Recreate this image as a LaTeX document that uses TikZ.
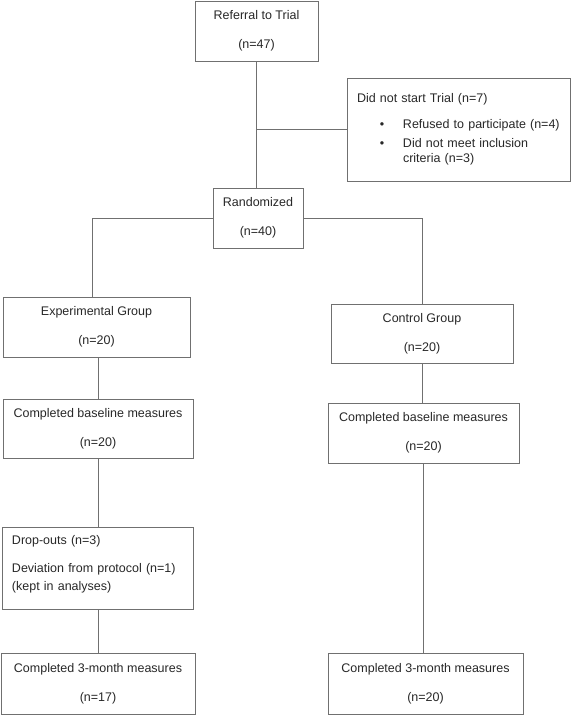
\documentclass[tikz,border=0pt]{standalone}
\usepackage{fontspec}
\setmainfont{Liberation Sans}
\usetikzlibrary{calc}
\definecolor{linecol}{RGB}{112,112,112}
\definecolor{textcol}{RGB}{40,40,40}
\begin{document}
\begin{tikzpicture}[x=1pt,y=-1pt,
  box/.style={draw=linecol,line width=1pt,rectangle,inner sep=0pt,text=textcol,
    font=\fontsize{12.5}{15}\selectfont,align=center},
  conn/.style={draw=linecol,line width=1pt}]
\useasboundingbox (0,0) rectangle (571,716);
\fill[white] (0,0) rectangle (571,716);
\newcommand{\twoline}[2]{#1\\[14pt]#2}
% nodes
\node[box,minimum width=123pt,minimum height=60pt] (ref) at (256.5,31) {\twoline{Referral to Trial}{(n=47)}};
\node[box,minimum width=223pt,minimum height=103pt,text width=203pt,align=left,inner xsep=10pt] (side) at (458.5,129.5)
 {\fontsize{12.5}{18.5}\selectfont Did not start Trial (n=7)\\[7.5pt]
  \hspace*{25pt}\makebox[0pt]{\textbullet}\hspace*{21pt}Refused to participate (n=4)\\
  \hspace*{25pt}\makebox[0pt]{\textbullet}\hspace*{21pt}Did not meet inclusion\\
  \hspace*{46pt}criteria (n=3)};
\node[box,minimum width=90pt,minimum height=60pt] (rand) at (258,218) {\twoline{Randomized}{(n=40)}};
\node[box,minimum width=187pt,minimum height=60pt] (exp) at (96.5,327) {\twoline{Experimental Group}{(n=20)}};
\node[box,minimum width=190pt,minimum height=59pt] (basel) at (98,428.5) {\twoline{Completed baseline measures}{(n=20)}};
\node[box,minimum width=191pt,minimum height=82pt,text width=171pt,align=left,inner xsep=10pt] (drop) at (97.5,568)
 {\fontsize{12.5}{18}\selectfont Drop-outs (n=3)\\[10pt]
  Deviation from protocol (n=1)\\
  (kept in analyses)\\[-4pt]\mbox{}};
\node[box,minimum width=194pt,minimum height=61pt] (threel) at (98,684) {\twoline{Completed 3-month measures}{(n=17)}};
\node[box,minimum width=182pt,minimum height=59pt] (ctrl) at (422,333.5) {\twoline{Control Group}{(n=20)}};
\node[box,minimum width=191pt,minimum height=60pt] (baser) at (423.5,433) {\twoline{Completed baseline measures}{(n=20)}};
\node[box,minimum width=195pt,minimum height=61pt] (threer) at (425.5,684) {\twoline{Completed 3-month measures}{(n=20)}};
% connectors
\draw[conn] (ref.south) -- (ref.south |- rand.north);
\coordinate (j1) at (ref.south |- side.west);
\draw[conn] (j1) -- (side.west);
\draw[conn] (rand.west) -| ([xshift=-4.5pt]exp.north);
\draw[conn] (rand.east) -| (ctrl.north);
\draw[conn] (basel.north |- exp.south) -- (basel.north);
\draw[conn] (basel.south) -- (basel.south |- drop.north);
\draw[conn] (threel.north |- drop.south) -- (threel.north);
\draw[conn] (ctrl.south) -- (ctrl.south |- baser.north);
\draw[conn] (baser.south) -- (baser.south |- threer.north);
\end{tikzpicture}
\end{document}
